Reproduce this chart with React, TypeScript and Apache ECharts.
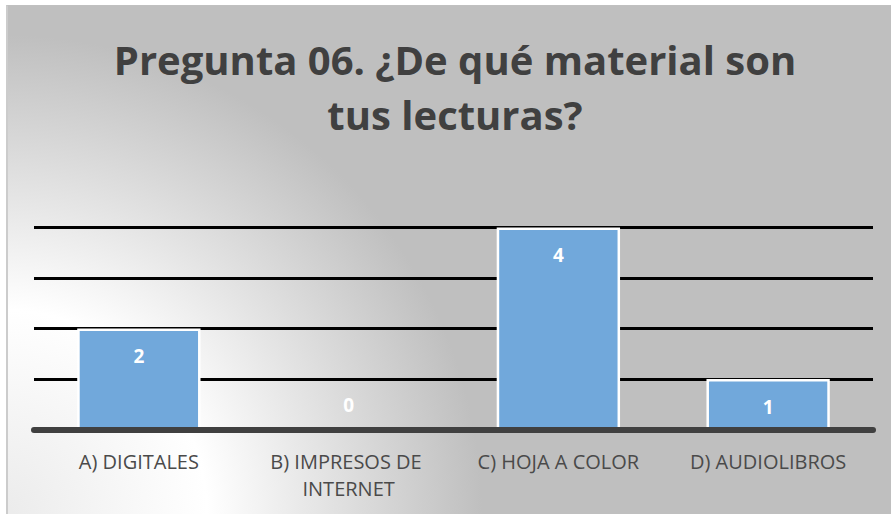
import React, { useEffect, useRef } from "react";
import * as echarts from "echarts";

const titleLines = ["Pregunta 06. ¿De qué material son", "tus lecturas?"];
const categories = ["A) DIGITALES", "B) IMPRESOS DE INTERNET", "C) HOJA A COLOR", "D) AUDIOLIBROS"];
const values = [2, 0, 4, 1];
const yMin = 0;
const yMax = 4;
const yInterval = 1;

const FONT = "'Open Sans', 'Noto Sans', sans-serif";

export default function App() {
  const ref = useRef<HTMLDivElement>(null);
  useEffect(() => {
    const chart = echarts.init(ref.current!, null, { renderer: "svg" });
    chart.setOption({
      animation: false,
      backgroundColor: "transparent",
      title: {
        text: titleLines.join("\n"),
        left: 455,
        top: 32,
        padding: 0,
        textAlign: "center",
        textStyle: {
          fontFamily: FONT,
          fontWeight: "bold",
          fontSize: 40,
          lineHeight: 55,
          color: "#404040",
        },
      },
      grid: { left: 34, right: 18, top: 227.5, height: 202, containLabel: false },
      xAxis: {
        type: "category",
        data: categories,
        z: 5,
        axisLine: { lineStyle: { color: "#404040", width: 6 } },
        axisTick: { show: false },
        axisLabel: {
          interval: 0,
          margin: 18,
          fontFamily: FONT,
          fontSize: 20,
          lineHeight: 27,
          color: "#4a4a4a",
          width: 200,
          overflow: "break",
        },
      },
      yAxis: {
        type: "value",
        min: yMin,
        max: yMax,
        interval: yInterval,
        axisLabel: { show: false },
        axisLine: { show: false },
        axisTick: { show: false },
        splitLine: { lineStyle: { color: "#000000", width: 3 } },
      },
      series: [
        {
          type: "bar",
          data: values.map((v) => ({
            value: v,
            label: v === 0 ? { position: "insideBottom", distance: 16 } : {},
          })),
          barCategoryGap: "41.2%",
          itemStyle: { color: "#71a8db", borderColor: "#ffffff", borderWidth: 2.5 },
          label: {
            show: true,
            position: "insideTop",
            distance: 18,
            color: "#ffffff",
            fontFamily: FONT,
            fontWeight: "bold",
            fontSize: 19,
          },
        },
      ],
    });
    return () => chart.dispose();
  }, []);

  return (
    <div
      style={{
        position: "fixed",
        left: 0,
        top: 0,
        width: 891,
        height: 514,
        background: "#ffffff",
        overflow: "hidden",
      }}
    >
      <div
        style={{
          position: "absolute",
          left: 6,
          top: 5,
          width: 900,
          height: 520,
          boxSizing: "border-box",
          borderLeft: "2px solid #cccccc",
          borderTop: "1px solid #c0c0c0",
          backgroundImage:
            "radial-gradient(circle 480px at -6px 509px, #ebebeb 0px, #ffffff 205px, #bfbfbf 480px)",
        }}
      />
      <div ref={ref} style={{ position: "absolute", left: 0, top: 0, width: 891, height: 514 }} />
    </div>
  );
}
